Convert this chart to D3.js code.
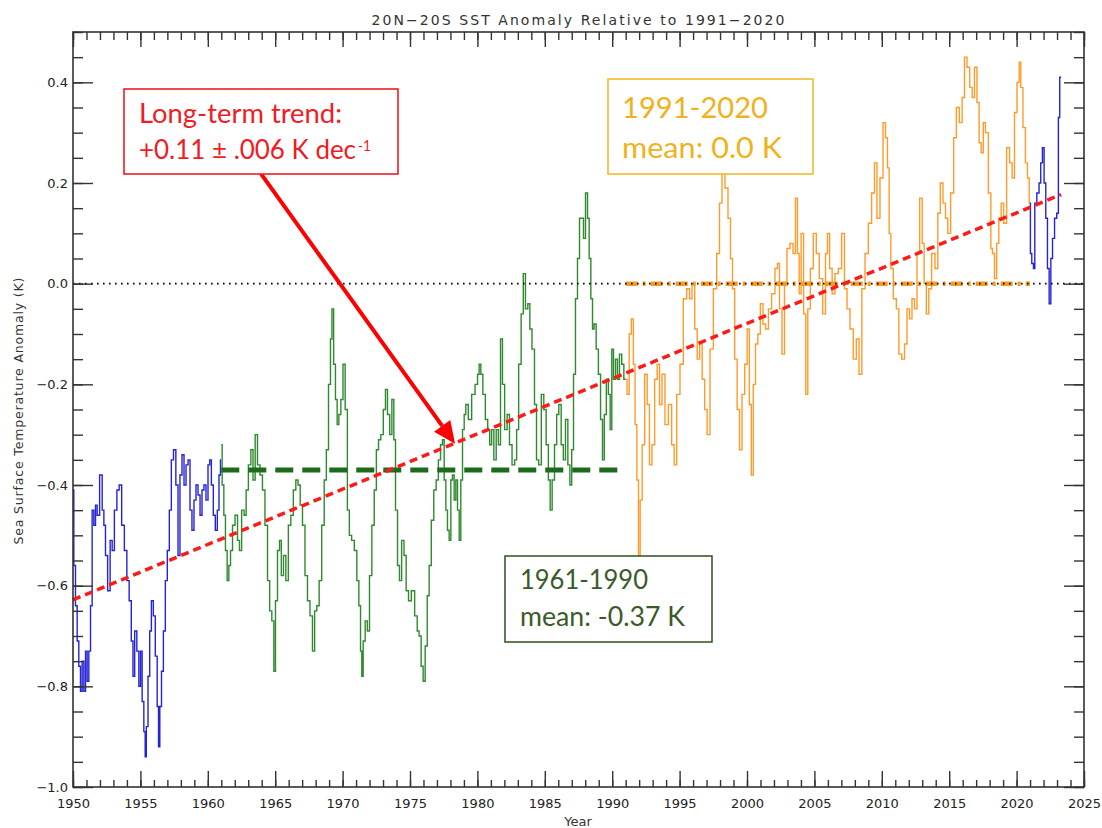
<!DOCTYPE html>
<html>
<head>
<meta charset="utf-8">
<script src="https://cdn.jsdelivr.net/npm/d3@7"></script>
<style>
  body { margin: 0; background: #fff; }
  svg { display: block; font-family: 'DejaVu Sans', sans-serif; }
  .axis .tick line { stroke: #333; stroke-width: 1.4; }
  .axis .tick text { fill: #222; font-size: 13px; font-family: 'DejaVu Sans', sans-serif; }
  .note { font-family: Lato, 'Open Sans', sans-serif; }
</style>
</head>
<body>
<svg width="1102" height="828"></svg>
<script>
// monthly-ish SST anomaly (K): [year, value]
const blueEarly = [[1950.00,-0.41],[1950.12,-0.56],[1950.25,-0.64],[1950.37,-0.71],[1950.49,-0.76],[1950.62,-0.81],[1950.74,-0.75],[1950.87,-0.81],[1950.99,-0.73],[1951.11,-0.79],[1951.24,-0.73],[1951.36,-0.64],[1951.48,-0.45],[1951.61,-0.48],[1951.73,-0.44],[1951.85,-0.46],[1952.10,-0.38],[1952.23,-0.45],[1952.35,-0.48],[1952.47,-0.54],[1952.67,-0.61],[1952.84,-0.51],[1952.97,-0.53],[1953.17,-0.45],[1953.34,-0.41],[1953.51,-0.40],[1953.71,-0.48],[1953.91,-0.53],[1954.08,-0.59],[1954.25,-0.63],[1954.40,-0.71],[1954.50,-0.78],[1954.65,-0.69],[1954.82,-0.73],[1954.95,-0.80],[1955.07,-0.73],[1955.19,-0.83],[1955.32,-0.89],[1955.39,-0.94],[1955.49,-0.88],[1955.64,-0.78],[1955.74,-0.69],[1955.89,-0.63],[1956.03,-0.66],[1956.18,-0.74],[1956.31,-0.84],[1956.38,-0.92],[1956.50,-0.84],[1956.63,-0.77],[1956.78,-0.69],[1956.92,-0.59],[1957.07,-0.53],[1957.22,-0.45],[1957.37,-0.35],[1957.54,-0.33],[1957.72,-0.40],[1957.86,-0.54],[1958.01,-0.38],[1958.16,-0.34],[1958.31,-0.40],[1958.46,-0.36],[1958.61,-0.35],[1958.75,-0.45],[1958.90,-0.49],[1959.05,-0.43],[1959.20,-0.40],[1959.35,-0.42],[1959.50,-0.46],[1959.64,-0.41],[1959.79,-0.40],[1959.94,-0.43],[1960.09,-0.36],[1960.19,-0.35],[1960.34,-0.40],[1960.48,-0.46],[1960.63,-0.49],[1960.78,-0.45],[1960.88,-0.38],[1961.00,-0.35]]

const greenRef = [[1961.00,-0.32],[1961.13,-0.40],[1961.25,-0.46],[1961.37,-0.53],[1961.50,-0.59],[1961.62,-0.56],[1961.75,-0.53],[1961.92,-0.48],[1962.12,-0.46],[1962.29,-0.51],[1962.41,-0.53],[1962.61,-0.45],[1962.78,-0.46],[1962.91,-0.41],[1963.11,-0.36],[1963.28,-0.33],[1963.43,-0.39],[1963.60,-0.30],[1963.77,-0.36],[1963.97,-0.38],[1964.14,-0.41],[1964.34,-0.48],[1964.52,-0.59],[1964.66,-0.65],[1964.84,-0.67],[1964.96,-0.77],[1965.08,-0.63],[1965.26,-0.53],[1965.38,-0.51],[1965.53,-0.58],[1965.70,-0.54],[1965.88,-0.59],[1966.07,-0.48],[1966.25,-0.46],[1966.44,-0.41],[1966.62,-0.39],[1966.77,-0.40],[1966.94,-0.44],[1967.11,-0.48],[1967.31,-0.58],[1967.48,-0.63],[1967.68,-0.66],[1967.85,-0.73],[1968.00,-0.65],[1968.17,-0.64],[1968.35,-0.59],[1968.55,-0.48],[1968.72,-0.39],[1968.87,-0.33],[1969.04,-0.20],[1969.16,-0.11],[1969.26,-0.05],[1969.41,-0.16],[1969.53,-0.23],[1969.66,-0.28],[1969.78,-0.26],[1969.96,-0.23],[1970.10,-0.16],[1970.28,-0.25],[1970.43,-0.45],[1970.57,-0.50],[1970.77,-0.51],[1970.97,-0.53],[1971.14,-0.59],[1971.27,-0.64],[1971.39,-0.73],[1971.46,-0.78],[1971.59,-0.71],[1971.76,-0.67],[1971.91,-0.69],[1972.08,-0.58],[1972.26,-0.48],[1972.43,-0.41],[1972.58,-0.33],[1972.75,-0.31],[1972.92,-0.30],[1973.12,-0.25],[1973.24,-0.21],[1973.42,-0.26],[1973.57,-0.30],[1973.74,-0.23],[1973.86,-0.31],[1973.99,-0.45],[1974.16,-0.56],[1974.28,-0.59],[1974.48,-0.51],[1974.63,-0.54],[1974.80,-0.61],[1974.98,-0.63],[1975.22,-0.61],[1975.47,-0.66],[1975.60,-0.69],[1975.75,-0.70],[1975.90,-0.76],[1976.05,-0.79],[1976.20,-0.72],[1976.36,-0.62],[1976.48,-0.56],[1976.68,-0.47],[1976.85,-0.41],[1977.03,-0.39],[1977.18,-0.35],[1977.35,-0.32],[1977.47,-0.31],[1977.60,-0.39],[1977.72,-0.45],[1977.84,-0.49],[1977.97,-0.51],[1978.09,-0.39],[1978.21,-0.38],[1978.34,-0.43],[1978.46,-0.39],[1978.59,-0.45],[1978.71,-0.51],[1978.83,-0.39],[1978.96,-0.29],[1979.08,-0.26],[1979.20,-0.24],[1979.45,-0.27],[1979.70,-0.22],[1979.95,-0.20],[1980.07,-0.18],[1980.19,-0.16],[1980.32,-0.18],[1980.49,-0.22],[1980.69,-0.27],[1980.84,-0.29],[1980.98,-0.32],[1981.13,-0.29],[1981.31,-0.35],[1981.48,-0.29],[1981.63,-0.32],[1981.80,-0.11],[1981.92,-0.20],[1982.12,-0.29],[1982.29,-0.26],[1982.47,-0.32],[1982.67,-0.36],[1982.86,-0.35],[1982.96,-0.29],[1983.16,-0.16],[1983.33,-0.06],[1983.48,0.02],[1983.65,-0.05],[1983.83,-0.04],[1983.95,-0.09],[1984.15,-0.13],[1984.32,-0.24],[1984.45,-0.35],[1984.64,-0.36],[1984.84,-0.22],[1985.01,-0.25],[1985.19,-0.32],[1985.34,-0.39],[1985.46,-0.45],[1985.63,-0.39],[1985.81,-0.32],[1985.95,-0.26],[1986.13,-0.24],[1986.30,-0.32],[1986.45,-0.35],[1986.62,-0.27],[1986.80,-0.36],[1986.92,-0.40],[1987.07,-0.33],[1987.19,-0.18],[1987.36,-0.03],[1987.49,0.05],[1987.66,0.13],[1987.81,0.13],[1987.93,0.09],[1988.11,0.18],[1988.23,0.13],[1988.35,0.05],[1988.48,-0.03],[1988.60,-0.09],[1988.72,-0.08],[1988.90,-0.13],[1989.05,-0.18],[1989.22,-0.27],[1989.34,-0.35],[1989.49,-0.26],[1989.64,-0.19],[1989.79,-0.22],[1989.91,-0.29],[1990.03,-0.13],[1990.16,-0.19],[1990.33,-0.15],[1990.45,-0.19],[1990.63,-0.14],[1990.78,-0.16],[1990.95,-0.19],[1991.00,-0.19]]

const orangeRecent = [[1991.00,-0.19],[1991.20,-0.22],[1991.32,-0.10],[1991.52,-0.07],[1991.62,-0.16],[1991.77,-0.28],[1991.89,-0.39],[1992.01,-0.54],[1992.14,-0.43],[1992.31,-0.32],[1992.51,-0.18],[1992.68,-0.24],[1992.85,-0.36],[1993.05,-0.32],[1993.25,-0.19],[1993.42,-0.16],[1993.60,-0.24],[1993.79,-0.18],[1994.04,-0.28],[1994.29,-0.24],[1994.53,-0.32],[1994.66,-0.36],[1994.91,-0.22],[1995.15,-0.16],[1995.40,-0.03],[1995.65,-0.01],[1995.82,-0.03],[1996.02,0.00],[1996.22,-0.09],[1996.39,-0.15],[1996.59,-0.12],[1996.76,-0.19],[1996.96,-0.25],[1997.13,-0.30],[1997.38,-0.13],[1997.63,-0.01],[1997.87,0.06],[1998.05,0.16],[1998.24,0.22],[1998.49,0.19],[1998.69,0.13],[1998.86,0.05],[1998.99,-0.01],[1999.18,-0.15],[1999.36,-0.25],[1999.53,-0.33],[1999.73,-0.22],[1999.93,-0.16],[2000.10,-0.09],[2000.25,-0.24],[2000.39,-0.38],[2000.54,-0.20],[2000.72,-0.12],[2000.89,-0.10],[2001.09,-0.04],[2001.28,-0.08],[2001.48,-0.09],[2001.70,-0.05],[2001.95,-0.02],[2002.20,0.03],[2002.32,0.04],[2002.50,-0.05],[2002.69,-0.14],[2002.87,0.00],[2003.06,0.07],[2003.31,0.08],[2003.51,0.06],[2003.68,0.17],[2003.81,0.06],[2003.93,-0.02],[2004.10,0.10],[2004.30,-0.06],[2004.42,-0.22],[2004.60,-0.05],[2004.80,0.03],[2005.04,0.10],[2005.24,0.06],[2005.49,0.01],[2005.74,-0.06],[2005.91,0.06],[2006.03,0.10],[2006.23,0.03],[2006.40,-0.02],[2006.65,0.02],[2006.90,0.03],[2007.14,0.10],[2007.32,-0.01],[2007.52,-0.05],[2007.76,-0.09],[2008.01,-0.15],[2008.21,-0.11],[2008.41,-0.18],[2008.63,-0.01],[2008.88,0.06],[2009.12,0.12],[2009.37,0.18],[2009.54,0.24],[2009.74,0.13],[2009.99,0.21],[2010.19,0.32],[2010.36,0.29],[2010.48,0.23],[2010.61,0.10],[2010.73,0.03],[2010.98,-0.03],[2011.18,-0.05],[2011.35,-0.14],[2011.60,-0.15],[2011.77,-0.12],[2011.97,-0.05],[2012.14,-0.07],[2012.34,-0.03],[2012.51,-0.05],[2012.71,0.06],[2012.91,0.17],[2013.08,0.08],[2013.20,0.00],[2013.40,-0.06],[2013.57,-0.01],[2013.82,0.06],[2014.07,0.03],[2014.24,0.14],[2014.44,0.20],[2014.64,0.16],[2014.81,0.13],[2014.98,0.10],[2015.23,0.18],[2015.43,0.29],[2015.63,0.35],[2015.87,0.32],[2016.05,0.37],[2016.22,0.45],[2016.42,0.43],[2016.62,0.39],[2016.79,0.37],[2016.96,0.43],[2017.16,0.36],[2017.28,0.28],[2017.46,0.26],[2017.60,0.32],[2017.78,0.30],[2018.03,0.18],[2018.15,0.07],[2018.27,0.06],[2018.45,0.01],[2018.59,0.08],[2018.77,0.13],[2018.94,0.16],[2019.14,0.12],[2019.38,0.27],[2019.58,0.24],[2019.76,0.21],[2019.93,0.34],[2020.13,0.40],[2020.25,0.44],[2020.37,0.39],[2020.57,0.31],[2020.74,0.24],[2020.87,0.21],[2021.00,0.16]]

const blueLate = [[2021.00,0.16],[2021.05,0.06],[2021.20,0.04],[2021.30,0.03],[2021.40,0.16],[2021.60,0.18],[2021.73,0.20],[2021.85,0.24],[2021.98,0.27],[2022.10,0.20],[2022.23,0.13],[2022.35,0.03],[2022.48,-0.04],[2022.60,0.05],[2022.73,0.09],[2022.90,0.13],[2023.05,0.14],[2023.15,0.33],[2023.25,0.41],[2023.30,0.41]]

// reference-period means and the fitted trend
const meanRef = [[1961, -0.37], [1991, -0.37]]
const meanRecent = [[1991, 0.0], [2021, 0.0]]
const zeroLine = [[1950, 0.0], [2025, 0.0]]
const trendLine = [[1950.0, -0.628], [2023.3, 0.177]]
const arrowPath = [[1963.95, 0.218], [1978.34, -0.318]]

const xMajorTicks = d3.range(1950, 2026, 5)
const xMinorTicks = d3.range(1950, 2026, 1)
const yMajorTicks = [-1.0, -0.8, -0.6, -0.4, -0.2, 0.0, 0.2, 0.4]
const yMinorTicks = d3.range(-20, 11).map(i => i * 0.05)

const titleText = '20N\u221220S SST Anomaly Relative to 1991\u22122020'
const yTitle = 'Sea Surface Temperature Anomaly (K)'
const xTitle = 'Year'

attach()

function attach () {
  const dim = setDimensions()
  const scales = setScales(dim)
  const svg = d3.select('svg')

  drawSeries(svg, scales)
  drawRefLines(svg, scales)
  drawAxes(svg, dim, scales)
  drawFrame(svg, dim)
  drawTitles(svg, dim)
  drawNotes(svg, scales)
}

function setDimensions () {
  const margin = {top: 32, right: 18, bottom: 41, left: 73}
  return { width: 1102, height: 828, margin }
}

function setScales ({ width, height, margin }) {
  const xScale = d3.scaleLinear()
    .domain([1950, 2025])
    .range([margin.left, width - margin.right])
  const yScale = d3.scaleLinear()
    .domain([-1.0, 0.5])
    .range([height - margin.bottom, margin.top])
  return { xScale, yScale }
}

function drawSeries (svg, { xScale, yScale }) {
  const path = d3.line()
    .curve(d3.curveStep)
    .x(d => xScale(d[0]))
    .y(d => yScale(d[1]))

  const series = [
    { data: blueEarly, color: '#2424d6' },
    { data: greenRef, color: '#2f8a2f' },
    { data: orangeRecent, color: '#ff9b2a' },
    { data: blueLate, color: '#2424d6' }
  ]
  svg.append('g').selectAll('path')
    .data(series)
    .join('path')
      .attr('d', d => path(d.data))
      .attr('fill', 'none')
      .attr('stroke', d => d.color)
      .attr('stroke-width', 1.4)
}

function drawRefLines (svg, { xScale, yScale }) {
  const line = d3.line()
    .x(d => xScale(d[0]))
    .y(d => yScale(d[1]))

  svg.append('path') // 1961-1990 mean
    .attr('d', line(meanRef))
    .attr('stroke', '#1c6a1c')
    .attr('stroke-width', 5)
    .attr('stroke-dasharray', '18,9')

  svg.append('path') // 1991-2020 mean
    .attr('d', line(meanRecent))
    .attr('stroke', '#f59a22')
    .attr('stroke-width', 4.5)
    .attr('stroke-dasharray', '12,5,3,5')

  svg.append('path')
    .attr('d', line(zeroLine))
    .attr('stroke', '#000')
    .attr('stroke-width', 1.6)
    .attr('stroke-dasharray', '1.6,4.4')

  svg.append('path')
    .attr('d', line(trendLine))
    .attr('stroke', '#ff1a1a')
    .attr('stroke-width', 3.5)
    .attr('stroke-dasharray', '8,5')
}

function drawAxes (svg, { width, height, margin }, { xScale, yScale }) {
  const bottom = height - margin.bottom
  const right = width - margin.right

  addAxis(svg, `translate(0,${bottom})`, d3.axisBottom(xScale).tickValues(xMinorTicks).tickSize(-7).tickFormat(''))
  addAxis(svg, `translate(0,${bottom})`, d3.axisBottom(xScale).tickValues(xMajorTicks).tickSize(-16).tickPadding(12).tickFormat(d3.format('d')))
  addAxis(svg, `translate(0,${margin.top})`, d3.axisTop(xScale).tickValues(xMinorTicks).tickSize(-8).tickFormat(''))
  addAxis(svg, `translate(0,${margin.top})`, d3.axisTop(xScale).tickValues(xMajorTicks).tickSize(-15).tickFormat(''))

  addAxis(svg, `translate(${margin.left},0)`, d3.axisLeft(yScale).tickValues(yMinorTicks).tickSize(-10).tickFormat(''))
  addAxis(svg, `translate(${margin.left},0)`, d3.axisLeft(yScale).tickValues(yMajorTicks).tickSize(-20).tickPadding(5).tickFormat(d3.format('.1f')))
  addAxis(svg, `translate(${right},0)`, d3.axisRight(yScale).tickValues(yMinorTicks).tickSize(-10).tickFormat(''))
  addAxis(svg, `translate(${right},0)`, d3.axisRight(yScale).tickValues(yMajorTicks).tickSize(-20).tickFormat(''))
}

function addAxis (svg, transform, axis) {
  const g = svg.append('g')
    .attr('class', 'axis')
    .attr('transform', transform)
    .call(axis)
  g.select('.domain').remove()
  return g
}

function drawFrame (svg, { width, height, margin }) {
  svg.append('rect')
    .attr('x', margin.left)
    .attr('y', margin.top)
    .attr('width', width - margin.left - margin.right)
    .attr('height', height - margin.top - margin.bottom)
    .attr('fill', 'none')
    .attr('stroke', '#333')
    .attr('stroke-width', 1.6)
}

function drawTitles (svg, { width, height, margin }) {
  svg.append('text')
    .attr('x', 578)
    .attr('y', 25)
    .attr('text-anchor', 'middle')
    .attr('font-size', 14)
    .attr('fill', '#333')
    .attr('textLength', 413)
    .attr('lengthAdjust', 'spacing')
    .text(titleText)

  svg.append('text')
    .attr('transform', 'translate(23,411) rotate(-90)')
    .attr('text-anchor', 'middle')
    .attr('font-size', 12.5)
    .attr('fill', '#333')
    .attr('textLength', 267)
    .attr('lengthAdjust', 'spacing')
    .text(yTitle)

  svg.append('text')
    .attr('x', 578)
    .attr('y', 826)
    .attr('text-anchor', 'middle')
    .attr('font-size', 13)
    .attr('fill', '#333')
    .text(xTitle)
}

function drawNotes (svg, { xScale, yScale }) {
  // arrow from the trend label down onto the trend line
  const [p0, p1] = arrowPath.map(d => [xScale(d[0]), yScale(d[1])])
  const ang = Math.atan2(p1[1] - p0[1], p1[0] - p0[0])
  const headLen = 22
  const headHalf = 10
  const base = [p1[0] - headLen * Math.cos(ang), p1[1] - headLen * Math.sin(ang)]
  svg.append('line')
    .attr('x1', p0[0]).attr('y1', p0[1])
    .attr('x2', base[0]).attr('y2', base[1])
    .attr('stroke', '#ff0000')
    .attr('stroke-width', 4)
  svg.append('path')
    .attr('d', `M${p1[0]},${p1[1]}L${base[0] - headHalf * Math.sin(ang)},${base[1] + headHalf * Math.cos(ang)}L${base[0] + headHalf * Math.sin(ang)},${base[1] - headHalf * Math.cos(ang)}Z`)
    .attr('fill', '#ff0000')

  noteBox(svg, { x: 124, y: 89, w: 274, h: 85, color: '#f01b24' }, [
    { text: 'Long-term trend:', x: 139, y: 123, size: 26, len: 203 },
    { text: '+0.11 \u00b1 .006 K dec', x: 139, y: 159, size: 26, len: 217 },
    { text: '-1', x: 358, y: 151, size: 15, len: 13 }
  ])
  noteBox(svg, { x: 608, y: 79, w: 205, h: 95, color: '#f2bb2c', textColor: '#f0b21a' }, [
    { text: '1991-2020', x: 622, y: 118, size: 29, len: 146 },
    { text: 'mean: 0.0 K', x: 622, y: 158, size: 29, len: 160 }
  ])
  noteBox(svg, { x: 505, y: 556, w: 207, h: 86, color: '#3b5a29' }, [
    { text: '1961-1990', x: 520, y: 589, size: 26, len: 128 },
    { text: 'mean: -0.37 K', x: 520, y: 626, size: 26, len: 165 }
  ])
}

function noteBox (svg, box, lines) {
  const g = svg.append('g').attr('class', 'note')
  g.append('rect')
    .attr('x', box.x)
    .attr('y', box.y)
    .attr('width', box.w)
    .attr('height', box.h)
    .attr('fill', '#fff')
    .attr('stroke', box.color)
    .attr('stroke-width', 1.6)
  g.selectAll('text')
    .data(lines)
    .join('text')
      .attr('x', d => d.x)
      .attr('y', d => d.y)
      .attr('font-size', d => d.size)
      .attr('fill', box.textColor || box.color)
      .attr('textLength', d => d.len)
      .attr('lengthAdjust', 'spacingAndGlyphs')
      .text(d => d.text)
}
</script>
</body>
</html>
